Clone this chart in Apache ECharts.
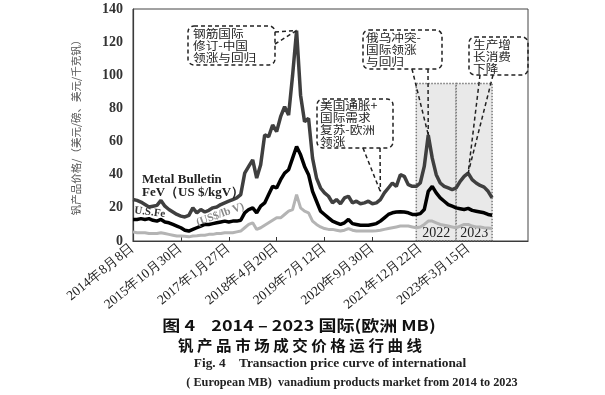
<!DOCTYPE html>
<html><head><meta charset="utf-8">
<script src="https://cdn.jsdelivr.net/npm/echarts@6/dist/echarts.min.js"></script>
<style>html,body{margin:0;padding:0;background:#fff}#c{width:605px;height:395px}</style>
</head><body><div id="c"></div>
<script>
// Tick labels on the x axis (one every 12 sample slots)
const tickLabels = ['2014年8月8日','2015年10月30日','2017年1月27日','2018年4月20日','2019年7月12日','2020年9月30日','2021年12月22日','2023年3月15日'];
const slotsPerTick = 12;
const totalSlots = 100;
const yTicks = [0, 20, 40, 60, 80, 100, 120, 140];

// Metal Bulletin FeV (US$/kgV)
const mbFeVkg = [25,24.5,23.5,22,20.5,21,21.5,24.5,21,19,
  17.5,16,15,14.5,15.5,20,17,19,17.5,18.5,
  20,20.5,22,23,24,25,26,28,41,45,
  49,38,46,64,63,70,66,75,81,76,
  100,127,88,72,74,50,38,32,29,27,
  23,25,22.5,26,27,23,24,22.5,23,24,
  22.5,23,25,29,32,35,33,40,39,34,
  33,33,35,45,64,50,40,35,33,32,
  31,32,36,39,41,37,35,33.5,32.5,30,26];
// FeV (US$/lb V)
const feVlb = [13,13,13.5,13,13.5,12.5,12,13,11.5,11,
  10,9,8,6.5,6,7,8,9,10,10,
  10.5,11,11.5,12,11.5,12,12,12.5,17,19,
  20,17,21,23,28,33,32,37,41,43,
  50,57,52,45,40,30,24,18,16,14,
  12,11,10,11,13,10.5,10,9.5,9.5,9.5,
  10,10.5,12,14,16,17,17.5,17.7,17.5,17,
  16,16,16.5,19,30,33,29,26,24,22,
  21,20,19.5,19,19.7,18.5,18,17.5,17,16,15.5];
// V2O5 (US$/lb)
const v2o5 = [5.5,5,5,5,4.5,4.5,4.5,5,4.5,4,
  3.5,3,3,2.8,2.5,3,3.2,3.5,3.5,4,
  4,4.5,4.5,5,5,5,5.5,6,8,10,
  11,7,8,9.5,11,12.5,14,14,16,18,
  19,28,20,18,17,12,10,8.5,7.5,7,
  7,6.5,6,6.5,7.5,6.5,6,6,6,6,
  6,6.2,6.5,7,7.5,8,8.5,9,9,9,
  8.5,8,8.5,10,12,12,11,10,9.5,9,
  8.5,8,9,10,10,9,8.5,8.5,8,7.8,7.5];

// shaded year spans (slot indices) and their labels
const shadeYears = ['2022', '2023'];
const shadeSpans = [[71, 81], [81, 90]];
const shadeTop = 95;

const categories = [];
for (let i = 0; i < totalSlots; i++) {
  const k = i / slotsPerTick;
  categories.push(Number.isInteger(k) && k < tickLabels.length ? tickLabels[k] : 's' + i);
}
const showTick = (idx) => idx % slotsPerTick === 0 && idx / slotsPerTick < tickLabels.length;

const chart = echarts.init(document.getElementById('c'), null, {renderer: 'canvas'});
const serif = '"Liberation Serif","DejaVu Serif",serif';
const cjk = '"Noto Sans CJK SC","Noto Sans",sans-serif';

const option = {
  animation: false,
  backgroundColor: '#fff',
  grid: {left: 133, top: 9, right: 77, bottom: 154},
  xAxis: {
    type: 'category', data: categories, boundaryGap: false,
    axisLine: {lineStyle: {color: '#333', width: 1.2}},
    axisTick: {inside: true, length: 4, interval: showTick, lineStyle: {color: '#333'}},
    axisLabel: {interval: showTick, rotate: 39, fontSize: 13.5, color: '#222', fontFamily: serif, margin: 5},
    splitLine: {show: false}
  },
  yAxis: {
    type: 'value', min: yTicks[0], max: yTicks[yTicks.length - 1], interval: yTicks[1] - yTicks[0],
    name: '钒产品价格/（美元/磅、美元/千克钒）', nameLocation: 'middle', nameRotate: 90, nameGap: 52,
    nameTextStyle: {fontSize: 10.5, color: '#555', fontFamily: cjk},
    axisLine: {show: true, lineStyle: {color: '#333', width: 1.2}},
    axisTick: {show: false},
    axisLabel: {fontSize: 14, fontWeight: 'bold', color: '#333', fontFamily: serif, margin: 10},
    splitLine: {show: false}
  },
  series: [
    {
      name: 'V2O5', type: 'line', data: v2o5, symbol: 'none',
      lineStyle: {color: '#b4b4b4', width: 3}, z: 3,
      markArea: {
        silent: true,
        itemStyle: {color: '#e9e9e9', borderColor: '#777', borderType: 'dotted', borderWidth: 1.5},
        label: {position: 'insideBottom', distance: 1, color: '#222', fontSize: 14, fontFamily: serif},
        data: shadeSpans.map((s, k) => [
          {name: shadeYears[k], xAxis: categories[s[0]], yAxis: shadeTop},
          {xAxis: categories[s[1]], yAxis: 0}
        ])
      }
    },
    {name: 'FeV lb', type: 'line', data: feVlb, symbol: 'none', lineStyle: {color: '#000', width: 3.5}, z: 4},
    {name: 'MB FeV kg', type: 'line', data: mbFeVkg, symbol: 'none', lineStyle: {color: '#3f3f3f', width: 3.5}, z: 5}
  ]
};
chart.setOption(option);

const px = (i, v) => chart.convertToPixel({gridIndex: 0}, [categories[i], v]);
const dash = {stroke: '#222', lineWidth: 1.5, lineDash: [4, 3]};
function box(x, y, w, h, lines, tx, ty) {
  return [
    {type: 'rect', shape: {x, y, width: w, height: h, r: 6}, style: Object.assign({fill: 'rgba(255,255,255,0)'}, dash), z: 20},
    {type: 'text', x: tx, y: ty, scaleX: 1.15, style: {text: lines.join('\n'), fontSize: 11, lineHeight: 12, fill: '#222', fontFamily: cjk, verticalAlign: 'top'}, z: 21}
  ];
}
function leader(a, b) {
  return {type: 'line', shape: {x1: a[0], y1: a[1], x2: b[0], y2: b[1]}, style: dash, z: 20};
}
const tl = px(0, yTicks[yTicks.length - 1]);
const br = px(totalSlots - 1, yTicks[0]);
const p1 = px(41, mbFeVkg[41]);
const p2 = px(62, mbFeVkg[62]); p2[1] -= 8;
const p3 = px(74, mbFeVkg[74]);
const p4 = px(84, mbFeVkg[84]);
const g = [].concat(
  [{type: 'rect', shape: {x: tl[0], y: tl[1], width: br[0] - tl[0], height: br[1] - tl[1]}, style: {fill: 'none', stroke: '#444', lineWidth: 1}, z: 1, silent: true}],
  box(188, 26, 87, 39, ['钢筋国际', '修订-中国', '领涨与回归'], 193, 28),
  [leader([275, 32], p1), leader([275, 44], p1)],
  box(317, 99, 76, 49, ['美国通胀+', '国际需求', '复苏-欧洲', '领涨'], 320, 100),
  [leader([363, 148], p2), leader([380, 148], p2)],
  box(363, 30, 79, 39, ['俄乌冲突-', '国际领涨', '与回归'], 366, 32),
  [leader([412, 69], p3), leader([428, 69], p3)],
  box(469, 37, 59, 38, ['生产增', '长消费', '下降'], 473, 39),
  [leader([480, 75], p4), leader([493, 75], p4)],
  [
    {type: 'text', x: 142, y: 173, style: {text: 'Metal Bulletin\nFeV（US $/kgV）', fontSize: 13, lineHeight: 13, fontWeight: 'bold', fill: '#222', fontFamily: serif}, z: 22},
    {type: 'text', x: 135, y: 205, rotation: -0.12, style: {text: 'U.S.Fe', fontSize: 11, fill: '#333', fontFamily: serif, fontWeight: 'bold'}, z: 22},
    {type: 'text', x: 195, y: 218, rotation: 0.35, style: {text: '(US$/lb V)', fontSize: 11, fill: '#888', fontFamily: serif, fontWeight: 'bold'}, z: 22},
    {type: 'text', x: 299, y: 325, scaleX: 1.2, style: {text: '图 4    2014 – 2023 国际(欧洲 MB)', fontSize: 15, fontWeight: 'bold', fill: '#111', fontFamily: cjk, align: 'center', verticalAlign: 'middle'}},
    {type: 'text', x: 300, y: 345, scaleX: 1.07, style: {text: '钒 产 品 市 场 成 交 价 格 运 行 曲 线', fontSize: 14.5, fontWeight: 'bold', fill: '#111', fontFamily: cjk, align: 'center', verticalAlign: 'middle'}},
    {type: 'text', x: 330, y: 364, scaleX: 1.16, style: {text: 'Fig. 4    Transaction price curve of international', fontSize: 11.5, fontWeight: 'bold', fill: '#222', fontFamily: serif, align: 'center', verticalAlign: 'middle'}},
    {type: 'text', x: 352, y: 383, scaleX: 1.065, style: {text: '( European MB)  vanadium products market from 2014 to 2023', fontSize: 11.5, fontWeight: 'bold', fill: '#222', fontFamily: serif, align: 'center', verticalAlign: 'middle'}}
  ]
);
chart.setOption({graphic: g});
</script></body></html>
